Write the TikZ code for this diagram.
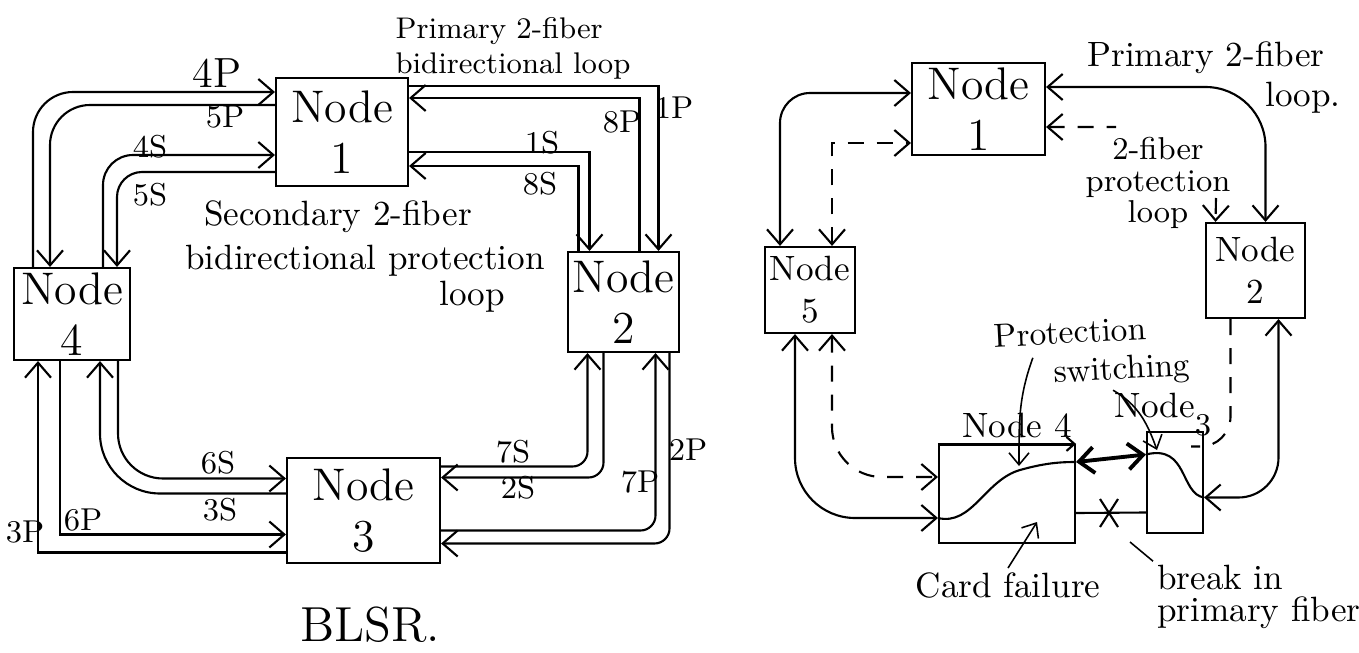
\documentclass[tikz,border=0pt]{standalone}
\usetikzlibrary{arrows.meta}

\begin{document}
\begin{tikzpicture}[x=0.1mm, y=-0.1mm,
  >={Straight Barb[length=1.5mm,width=2.6mm]},
  nbox/.style={draw, line width=0.6pt, inner sep=0pt, align=center,
               font=\fontsize{13}{14.5}\selectfont},
  sbox/.style={draw, line width=0.6pt, inner sep=0pt, align=center,
               font=\fontsize{10}{12}\selectfont},
  ebox/.style={draw, line width=0.6pt, inner sep=0pt},
  fib/.style={line width=0.6pt},
  dfib/.style={line width=0.6pt, dash pattern=on 1.6mm off 1.3mm},
  lab/.style={inner sep=1pt, font=\fontsize{9}{10}\selectfont},
  captxt/.style={inner sep=1pt, align=center, font=\fontsize{10}{11}\selectfont},
  ptr/.style={line width=0.45pt, ->, >={Straight Barb[length=1.2mm,width=2mm]}},
]
\useasboundingbox (0,0) rectangle (1359,652);

% BLSR, left
\node[nbox, minimum width=13.2mm, minimum height=10.8mm] (L1) at (342,132) {Node\\1};
\node[nbox, minimum width=11.1mm, minimum height=10mm] (L2) at (623.5,302) {Node\\2};
\node[nbox, minimum width=15.3mm, minimum height=10.5mm] (L3) at (363.5,510.5) {Node\\3};
\node[nbox, minimum width=11.6mm, minimum height=9.2mm] (L4) at (72,314) {Node\\4};

\draw[fib, ->, rounded corners=4mm] ([xshift=-3.9mm]L4.north) |- ([yshift=4mm]L1.west);
\draw[fib, ->, rounded corners=4mm] ([yshift=2.7mm]L1.west) -| ([xshift=-2.2mm]L4.north);
\draw[fib, ->, rounded corners=3mm] ([xshift=3.1mm]L4.north) |- ([yshift=-2.3mm]L1.west);
\draw[fib, ->, rounded corners=2.5mm] ([yshift=-4mm]L1.west) -| ([xshift=4.5mm]L4.north);

\draw[fib, ->] ([yshift=4.6mm]L1.east) -| ([xshift=3.5mm]L2.north);
\draw[fib, ->] ([xshift=1.6mm]L2.north) |- ([yshift=3.4mm]L1.east);
\draw[fib, ->] ([yshift=-2mm]L1.east) -| ([xshift=-3.4mm]L2.north);
\draw[fib, ->] ([xshift=-4.5mm]L2.north) |- ([yshift=-3.4mm]L1.east);

\draw[fib, ->] ([yshift=-4.2mm]L3.west) -| ([xshift=-3.4mm]L4.south);
\draw[fib, ->] ([xshift=-1.2mm]L4.south) |- ([yshift=-2.4mm]L3.west);
\draw[fib, ->, rounded corners=6mm] ([yshift=1.7mm]L3.west) -| ([xshift=2.8mm]L4.south);
\draw[fib, ->, rounded corners=4.5mm] ([xshift=4.6mm]L4.south) |- ([yshift=3.2mm]L3.west);

\draw[fib, ->, rounded corners=1.5mm] ([yshift=4.4mm]L3.east) -| ([xshift=-3.6mm]L2.south);
\draw[fib, ->, rounded corners=1.5mm] ([xshift=-2mm]L2.south) |- ([yshift=3.3mm]L3.east);
\draw[fib, ->, rounded corners=1.5mm] ([yshift=-2mm]L3.east) -| ([xshift=3.2mm]L2.south);
\draw[fib, ->, rounded corners=1.5mm] ([xshift=4.6mm]L2.south) |- ([yshift=-3.3mm]L3.east);

\node[lab, font=\fontsize{12}{13}\selectfont] (l4p) at (217,73) {4P};
\node[lab] (l5p) at (225,117) {5P};
\node[lab] (l4s) at (150,147) {4S};
\node[lab] (l5s) at (150,195) {5S};
\node[lab] (l1p) at (674,108) {1P};
\node[lab] (l8p) at (622,122) {8P};
\node[lab] (l1s) at (542,143) {1S};
\node[lab] (l8s) at (540,184) {8S};
\node[lab] (l6s) at (218,463) {6S};
\node[lab] (l3s) at (220,510) {3S};
\node[lab] (l6p) at (83,520) {6P};
\node[lab] (l3p) at (25,532) {3P};
\node[lab] (l7s) at (513,452) {7S};
\node[lab] (l2s) at (518,488) {2S};
\node[lab] (l7p) at (640,482) {7P};
\node[lab] (l2p) at (688,450) {2P};

\node[captxt, align=left, font=\fontsize{8.5}{10}\selectfont] (prim) at (513,48)
  {Primary 2-fiber\\bidirectional loop};
\node[captxt] (sec1) at (338,217) {Secondary 2-fiber};
\node[captxt] (sec2) at (365,261) {bidirectional protection};
\node[captxt] (sec3) at (472,297) {loop};
\node[captxt, font=\fontsize{14}{16}\selectfont] (blsr) at (370,625) {BLSR.};

% protection switching, right
\node[nbox, minimum width=13.3mm, minimum height=9.2mm] (R1) at (978.5,109) {Node\\1};
\node[sbox, minimum width=9.9mm, minimum height=9.5mm] (R2) at (1255.5,270.5) {Node\\2};
\node[ebox, minimum width=5.6mm, minimum height=10.1mm] (R3) at (1175,482.5) {};
\node[ebox, minimum width=13.6mm, minimum height=9.8mm] (R4) at (1007,494) {};
\node[sbox, minimum width=9mm, minimum height=8.6mm] (R5) at (810,290) {Node\\5};
\draw[fib, ->, >={Straight Barb[length=0.8mm,width=1.4mm]}] (R4.north west) -- (R4.north east);

\draw[fib, <->, rounded corners=3mm] ([xshift=-3mm]R5.north) |- ([yshift=1.6mm]R1.west);
\draw[dfib, <->] ([xshift=2.2mm]R5.north) |- ([yshift=-3.4mm]R1.west);
\draw[fib, <->, rounded corners=6mm] ([yshift=2.2mm]R1.east) -| ([xshift=1mm]R2.north);
\coordinate (pe1) at (1116,127);
\coordinate (pe2) at (1216,198);
\draw[dfib, <-] ([yshift=-1.8mm]R1.east) -- (pe1);
\draw[dfib, ->] (pe2) -- ([xshift=-4mm]R2.north);

\draw[fib, <->, rounded corners=6mm] ([xshift=-1.5mm]R5.south) |- ([yshift=-2.4mm]R4.west);
\draw[dfib, <->, rounded corners=5mm] ([xshift=2.2mm]R5.south) |- ([yshift=1.7mm]R4.west);
\draw[fib] ([yshift=-2.4mm]R4.west) .. controls (972,526) and (985,480) .. (1020,470)
  .. controls (1045,463) and (1060,462) .. ([yshift=3.2mm]R4.east);
\draw[fib, <->, line width=1.1pt] ([yshift=3.2mm]R4.east) -- ([yshift=2.8mm]R3.west);
\draw[fib] ([yshift=2.8mm]R3.west) .. controls (1188,444) and (1180,494) .. ([yshift=-1.5mm]R3.east);
\draw[fib, <->, rounded corners=4mm] ([yshift=-1.5mm]R3.east) -| ([xshift=2.3mm]R2.south);
\draw[dfib, rounded corners=3mm] ([xshift=-2.5mm]R2.south) |- ([xshift=-1.3mm,yshift=3.6mm]R3.east);
\draw[fib] ([yshift=-3mm]R3.west) -- ([yshift=-1.9mm]R4.east);
\coordinate (brk) at (1109,513);
\draw[fib] (brk) +(-9,-14) -- +(9,14) (brk) +(9,-14) -- +(-9,14);

\node[captxt] (t1) at (1206,58) {Primary 2-fiber};
\node[captxt] (t2) at (1303,98) {loop.};
\node[captxt, font=\fontsize{9}{9}\selectfont] (t3) at (1158,183) {2-fiber\\protection\\loop};
\node[captxt] (n4) at (1017,425) {Node 4};
\node[captxt] (n3) at (1163,415) {Node\raisebox{-1.2ex}{\small 3}};
\node[captxt, rotate=3, font=\fontsize{9.5}{10}\selectfont] (ps1) at (1070,332) {Protection};
\node[captxt, rotate=3, font=\fontsize{9.5}{10}\selectfont] (ps2) at (1122,371) {switching};
\node[captxt] (cf) at (1008,585) {Card failure};
\node[captxt, align=left, anchor=west, font=\fontsize{10}{9}\selectfont] (bk) at (1153,597)
  {break in\\primary fiber};

\coordinate (sw1) at (1019,466);
\coordinate (sw2) at (1157,450);
\coordinate (cfp) at (1037,522);
\coordinate (bks) at (1130,542);
\draw[ptr] ([xshift=-3.8mm,yshift=-1mm]ps1.south) to[out=-110, in=90] (sw1);
\draw[ptr] ([xshift=-1mm]ps2.south) to[out=-30, in=110] (sw2);
\draw[ptr] (cf.north) -- (cfp);
\draw[line width=0.45pt] (bks) -- (bk.north west);
\end{tikzpicture}
\end{document}
